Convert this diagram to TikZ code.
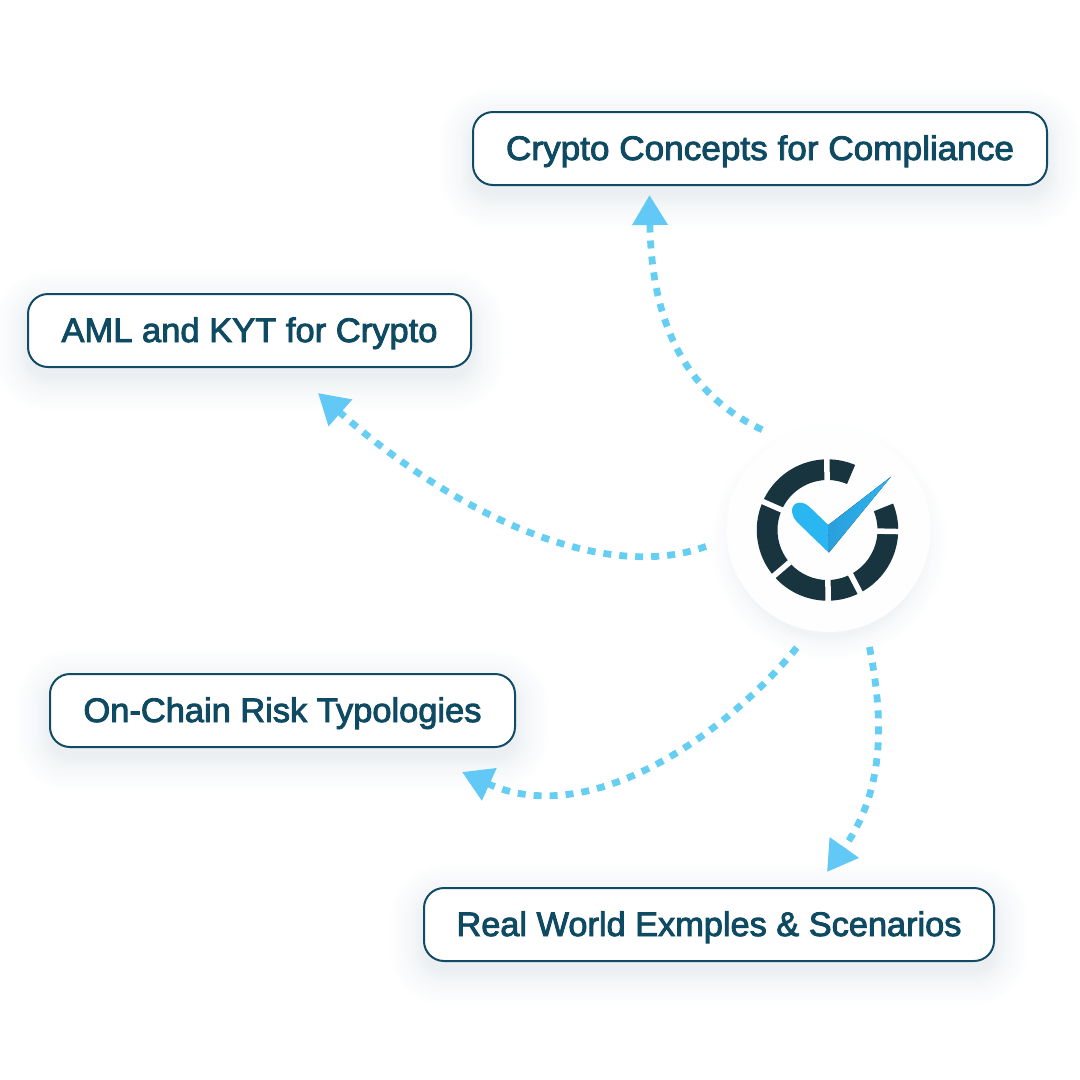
\documentclass[tikz,border=0pt]{standalone}
\usepackage{graphicx}
\usepackage{fontspec}
\usetikzlibrary{arrows.meta}
\newfontfamily\labfont{Liberation Sans}[FakeBold=2.6]
\definecolor{edgeblue}{HTML}{114B66}
\definecolor{textblue}{HTML}{0F4A63}
\definecolor{dashblue}{HTML}{66CDF3}
\definecolor{headblue}{HTML}{62C8F5}
\definecolor{ringdark}{HTML}{18353F}
\definecolor{armblue}{HTML}{2AB6F1}
\definecolor{wingblue}{HTML}{2A9FDC}
\definecolor{shadowc}{HTML}{6F8CA3}
\definecolor{discwhite}{HTML}{FEFEFE}
\tikzset{
  topicbox/.style={draw=edgeblue,line width=2pt,fill=white,rounded corners=20pt,
    minimum height=73pt,inner sep=0pt,text height=30pt,text depth=7pt,text=textblue,font=\labfont\fontsize{34pt}{38pt}\selectfont},
  hubdisc/.style={circle,fill=discwhite,minimum size=204pt,inner sep=0pt},
  conn/.style={dashblue,line width=6.8pt,dash pattern=on 8pt off 8pt,shorten <=22pt,
    -{Triangle[length=30pt,width=34pt,color=headblue]}},
  ringgap/.style={discwhite,line width=5.5pt}
}
\newcommand{\softshadow}[4]{%
  \foreach \i in {0,2,4,6,8,11,14,18,22,26,30,34}{
    \fill[shadowc,opacity=0.011,rounded corners={20pt+\i pt}]
      ({#1-\i},{#2+10-\i}) rectangle ({#3+\i},{#4+10+\i});
  }}
\begin{document}
\begin{tikzpicture}[x=1pt,y=-1pt]
\useasboundingbox (0,0) rectangle (1080,1080);
% soft shadows
\softshadow{473}{112}{1047}{185}
\softshadow{28}{294}{471}{367}
\softshadow{50}{674}{515}{747}
\softshadow{424}{888}{994}{961}
\foreach \i in {0,2,4,7,10,14,18,22}{
  \fill[shadowc,opacity=0.010] (829,542) circle[radius={96pt+\i pt}];
}
% nodes
\node[hubdisc] (hub) at (828.5,530) {};
\node[topicbox,minimum width=574pt] (conc) at (760,148.5) {\resizebox{508pt}{\height}{Crypto Concepts for Compliance}};
\node[topicbox,minimum width=443pt] (aml) at (249.5,330.5) {\resizebox{376pt}{\height}{AML and KYT for Crypto}};
\node[topicbox,minimum width=465pt] (risk) at (282.5,710.5) {\resizebox{398pt}{\height}{On-Chain Risk Typologies}};
\node[topicbox,minimum width=570pt] (real) at (709,924.5) {\resizebox{505pt}{\height}{Real World Exmples \& Scenarios}};
% arrow tips, just clear of the boxes
\coordinate (tipconc) at (649.5,195);
\coordinate (tipaml) at (318,393);
\coordinate (tiprisk) at (462,772);
\coordinate (tipreal) at (827,872);
% connectors
\draw[conn] (hub.117) .. controls (672,388) and (651,300) .. (tipconc);
\draw[conn] (hub.185.7) .. controls (600,585) and (450,510) .. (tipaml);
\draw[conn] (hub.260) .. controls (725,735) and (590,830) .. (tiprisk);
\draw[conn] (hub.291.8) .. controls (884,720) and (885,790) .. (tipreal);
% icon
\begin{scope}[shift={(827.5,530)},x=1pt,y=1pt]
  \fill[ringdark] (22:70.7) arc[start angle=22,end angle=-293,radius=70.7pt]
    -- (67:50) arc[start angle=-293,end angle=22,radius=50pt] -- cycle;
  \foreach \a in {90.5,156.3,-139.5,-89.5,-62.5,-1.25}{
    \draw[ringgap] (\a:47) -- (\a:74);
  }
\end{scope}
\fill[armblue] (828.3,525) -- (810,507.3) .. controls (801,498.5) and (790,503) .. (792.3,513.3)
  .. controls (792.8,516.5) and (794.5,519.5) .. (797,522) -- (828.8,552.7) -- cycle;
\fill[left color=wingblue,right color=armblue] (828.3,525) -- (891,476.7) -- (828.8,552.7) -- cycle;
\end{tikzpicture}
\end{document}
